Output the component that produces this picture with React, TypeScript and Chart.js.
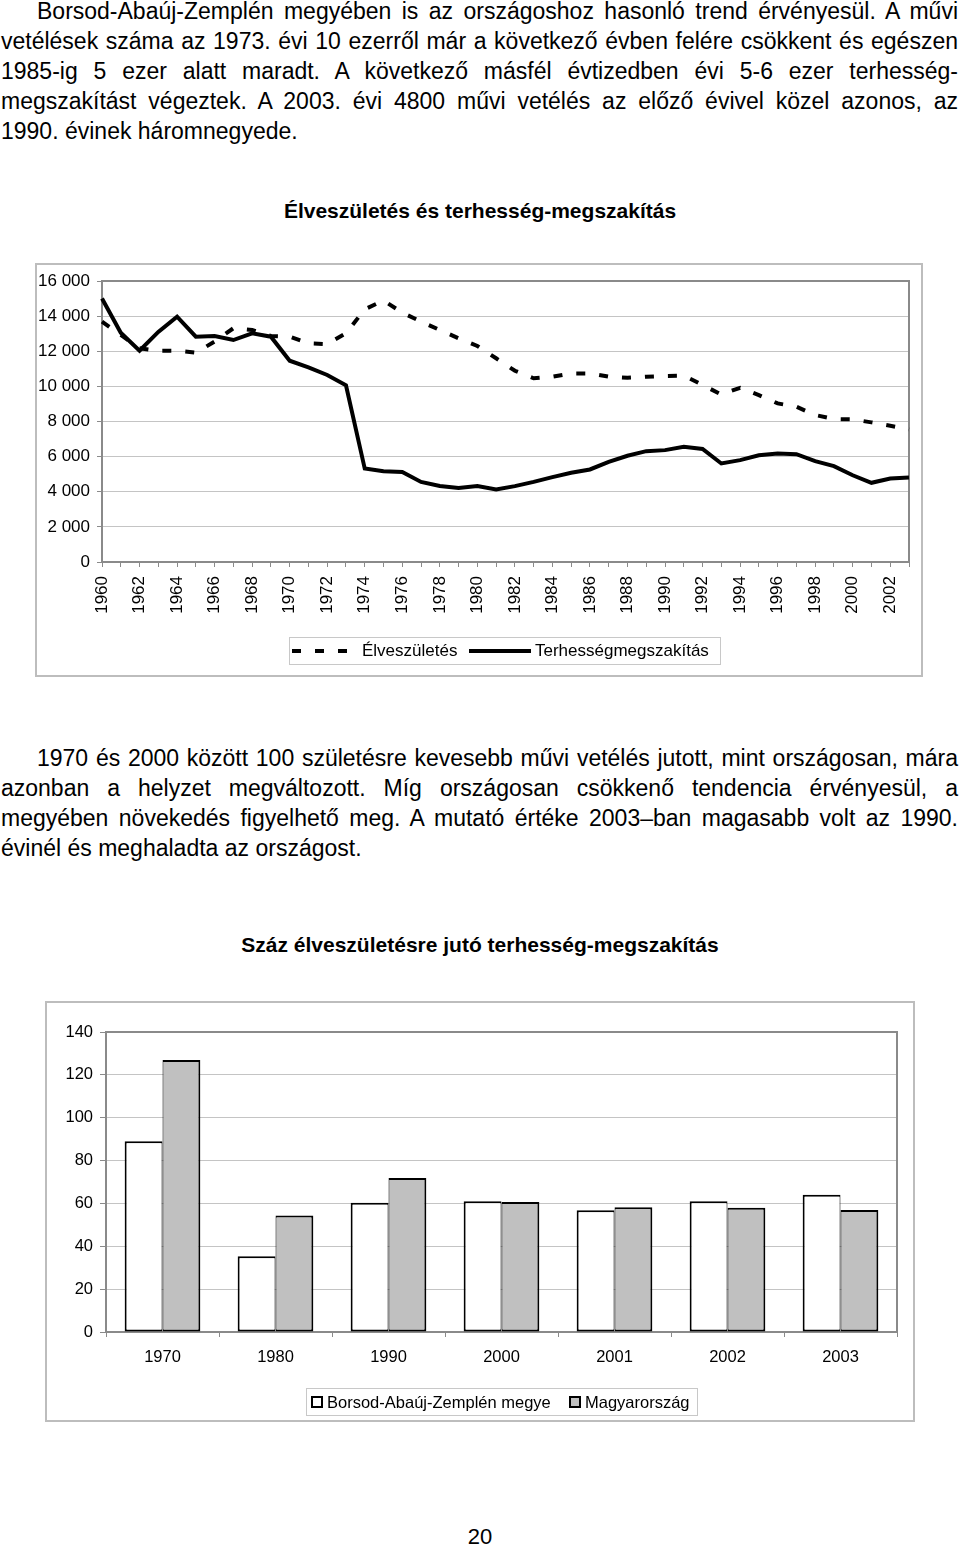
import React, { useEffect, useRef } from 'react';
import { Chart, registerables } from 'chart.js';

Chart.register(...registerables);

// ---------- Data ----------
const years = [
  '1960', '1961', '1962', '1963', '1964', '1965', '1966', '1967', '1968', '1969',
  '1970', '1971', '1972', '1973', '1974', '1975', '1976', '1977', '1978', '1979',
  '1980', '1981', '1982', '1983', '1984', '1985', '1986', '1987', '1988', '1989',
  '1990', '1991', '1992', '1993', '1994', '1995', '1996', '1997', '1998', '1999',
  '2000', '2001', '2002', '2003',
];

const elveszuletes = [
  13690, 12930, 12170, 12030, 12030, 11920, 12550, 13310, 13210, 12870,
  12830, 12450, 12410, 13020, 14390, 14890, 14200, 13690, 13210, 12740,
  12300, 11600, 10890, 10460, 10550, 10740, 10740, 10550, 10490, 10550,
  10590, 10610, 10080, 9540, 9920, 9500, 9030, 8840, 8370, 8140,
  8120, 7950, 7760, 7550,
];

const terhessegmegszakitas = [
  15000, 13050, 12030, 13100, 13970, 12830, 12870, 12640, 13020, 12830,
  11460, 11080, 10650, 10060, 5320, 5170, 5130, 4560, 4330, 4220,
  4330, 4130, 4320, 4560, 4830, 5080, 5270, 5700, 6050, 6310,
  6370, 6560, 6440, 5610, 5800, 6080, 6180, 6140, 5740, 5460,
  4940, 4510, 4750, 4810,
];

const barCategories = ['1970', '1980', '1990', '2000', '2001', '2002', '2003'];
const bazValues = [89, 35.3, 60.3, 61, 56.8, 61, 64.1];
const huValues = [126.9, 54.4, 71.9, 60.7, 58.2, 58, 56.9];

const lineLegendLabels = ['Élveszületés', 'Terhességmegszakítás'];
const barLegendLabels = ['Borsod-Abaúj-Zemplén megye', 'Magyarország'];

const para1 = [
  'Borsod-Abaúj-Zemplén megyében is az országoshoz hasonló trend érvényesül. A művi',
  'vetélések száma az 1973. évi 10 ezerről már a következő évben felére csökkent és egészen',
  '1985-ig 5 ezer alatt maradt. A következő másfél évtizedben évi 5-6 ezer terhesség-',
  'megszakítást végeztek. A 2003. évi 4800 művi vetélés az előző évivel közel azonos, az',
  '1990. évinek háromnegyede.',
];
const para2 = [
  '1970 és 2000 között 100 születésre kevesebb művi vetélés jutott, mint országosan, mára',
  'azonban a helyzet megváltozott. Míg országosan csökkenő tendencia érvényesül, a',
  'megyében növekedés figyelhető meg. A mutató értéke 2003–ban magasabb volt az 1990.',
  'évinél és meghaladta az országost.',
];

const title1 = 'Élveszületés és terhesség-megszakítás';
const title2 = 'Száz élveszületésre jutó terhesség-megszakítás';

const FONT = "'Liberation Sans', Arial, Helvetica, sans-serif";

const fmtThousands = (v: number) =>
  String(v).replace(/\B(?=(\d{3})+(?!\d))/g, ' ');

const plotBorder = {
  id: 'plotBorder',
  beforeDatasetsDraw(chart: any) {
    const { ctx, chartArea: a } = chart;
    ctx.save();
    ctx.strokeStyle = '#8a8a8a';
    ctx.lineWidth = 2;
    ctx.strokeRect(a.left, a.top, a.right - a.left, a.bottom - a.top);
    ctx.restore();
  },
};

const zeroScalePadding = (s: any) => {
  s.paddingLeft = 0;
  s.paddingRight = 0;
  s.paddingTop = 0;
  s.paddingBottom = 0;
};

function LineChart() {
  const ref = useRef<HTMLCanvasElement>(null);
  useEffect(() => {
    if (!ref.current) return;
    const chart = new Chart(ref.current, {
      type: 'line',
      data: {
        labels: years,
        datasets: [
          {
            label: lineLegendLabels[0],
            data: elveszuletes,
            borderColor: '#000',
            borderWidth: 4,
            borderDash: [9, 14],
            borderCapStyle: 'butt',
            pointRadius: 0,
            tension: 0,
            fill: false,
          },
          {
            label: lineLegendLabels[1],
            data: terhessegmegszakitas,
            borderColor: '#000',
            borderWidth: 4,
            pointRadius: 0,
            tension: 0,
            fill: false,
          },
        ],
      },
      options: {
        responsive: false,
        maintainAspectRatio: false,
        animation: false,
        devicePixelRatio: 1,
        layout: { autoPadding: false, padding: { left: 0, right: 12, top: 16, bottom: 53 } },
        plugins: { legend: { display: false }, tooltip: { enabled: false } },
        scales: {
          x: {
            type: 'category',
            offset: false,
            grid: {
              display: true,
              drawOnChartArea: false,
              drawTicks: true,
              tickLength: 5,
              color: '#8a8a8a',
            },
            border: { display: true, color: '#8a8a8a', width: 2 },
            ticks: {
              autoSkip: false,
              maxRotation: 90,
              minRotation: 90,
              padding: 9,
              color: '#000',
              font: { family: FONT, size: 17 },
              callback: (_v: any, i: number) => (i % 2 === 0 ? years[i] : ''),
            },
            afterFit: (s: any) => {
              s.height = 60;
              zeroScalePadding(s);
            },
          },
          y: {
            min: 0,
            max: 16000,
            ticks: {
              stepSize: 2000,
              padding: 7,
              color: '#000',
              font: { family: FONT, size: 17 },
              callback: (v: any) => fmtThousands(Number(v)),
            },
            grid: {
              color: '#c4c4c4',
              lineWidth: 1,
              tickLength: 5,
              tickColor: '#8a8a8a',
            },
            border: { display: true, color: '#8a8a8a', width: 2 },
            afterFit: (s: any) => {
              s.width = 65;
              zeroScalePadding(s);
            },
          },
        },
      },
      plugins: [plotBorder],
    } as any);
    return () => chart.destroy();
  }, []);
  return (
    <canvas
      ref={ref}
      width={884}
      height={410}
      style={{ position: 'absolute', left: 37, top: 265, width: 884, height: 410 }}
    />
  );
}

function BarChart() {
  const ref = useRef<HTMLCanvasElement>(null);
  useEffect(() => {
    if (!ref.current) return;
    const chart = new Chart(ref.current, {
      type: 'bar',
      data: {
        labels: barCategories,
        datasets: [
          {
            label: barLegendLabels[0],
            data: bazValues,
            backgroundColor: '#ffffff',
            borderColor: '#000',
            borderWidth: { top: 2, left: 2, right: 1, bottom: 2 },
            borderSkipped: false,
            barPercentage: 1,
            categoryPercentage: 0.67,
          },
          {
            label: barLegendLabels[1],
            data: huValues,
            backgroundColor: '#c0c0c0',
            borderColor: '#000',
            borderWidth: { top: 2, left: 1, right: 2, bottom: 2 },
            borderSkipped: false,
            barPercentage: 1,
            categoryPercentage: 0.67,
          },
        ],
      },
      options: {
        responsive: false,
        maintainAspectRatio: false,
        animation: false,
        devicePixelRatio: 1,
        layout: { autoPadding: false, padding: { left: 0, right: 16, top: 29, bottom: 48 } },
        plugins: { legend: { display: false }, tooltip: { enabled: false } },
        scales: {
          x: {
            grid: {
              display: true,
              offset: true,
              drawOnChartArea: false,
              drawTicks: true,
              tickLength: 5,
              color: '#8a8a8a',
            },
            border: { display: true, color: '#8a8a8a', width: 2 },
            ticks: {
              padding: 11,
              color: '#000',
              font: { family: FONT, size: 16.5 },
            },
            afterFit: (s: any) => {
              s.height = 40;
              zeroScalePadding(s);
            },
          },
          y: {
            min: 0,
            max: 140,
            ticks: {
              stepSize: 20,
              padding: 7,
              color: '#000',
              font: { family: FONT, size: 16.5 },
            },
            grid: {
              color: '#c4c4c4',
              lineWidth: 1,
              tickLength: 6,
              tickColor: '#8a8a8a',
            },
            border: { display: true, color: '#8a8a8a', width: 2 },
            afterFit: (s: any) => {
              s.width = 59;
              zeroScalePadding(s);
            },
          },
        },
      },
      plugins: [plotBorder],
    } as any);
    return () => chart.destroy();
  }, []);
  return (
    <canvas
      ref={ref}
      width={866}
      height={417}
      style={{ position: 'absolute', left: 47, top: 1003, width: 866, height: 417 }}
    />
  );
}

function Paragraph({ lines, top }: { lines: string[]; top: number }) {
  return (
    <>
      {lines.map((t, i) => {
        const last = i === lines.length - 1;
        const indent = i === 0 ? 36 : 0;
        return (
          <div
            key={i}
            style={{
              position: 'absolute',
              left: 1 + indent,
              width: 957 - indent,
              top: top + i * 30,
              height: 30,
              lineHeight: '30px',
              fontSize: 23,
              whiteSpace: 'nowrap',
              textAlign: last ? 'left' : 'justify',
              textAlignLast: last ? 'left' : 'justify',
            } as any}
          >
            {t}
          </div>
        );
      })}
    </>
  );
}

export default function App() {
  const abs = (l: number, t: number, extra: any = {}) => ({
    position: 'absolute' as const,
    left: l,
    top: t,
    ...extra,
  });
  return (
    <div
      style={{
        position: 'absolute',
        left: 0,
        top: 0,
        width: 960,
        height: 1546,
        overflow: 'hidden',
        background: '#fff',
        color: '#000',
        fontFamily: FONT,
      }}
    >
      <Paragraph lines={para1} top={-4} />

      <div
        style={abs(0, 196, {
          width: 960,
          textAlign: 'center',
          fontWeight: 'bold',
          fontSize: 21,
          lineHeight: '30px',
        })}
      >
        {title1}
      </div>

      {/* line chart frame */}
      <div
        style={abs(35, 263, {
          width: 888,
          height: 414,
          boxSizing: 'border-box',
          border: '2px solid #bdbdbd',
        })}
      />
      <LineChart />
      {/* line chart legend */}
      <div
        style={abs(289, 637, {
          width: 432,
          height: 28,
          boxSizing: 'border-box',
          border: '1px solid #c8c8c8',
        })}
      />
      <svg style={abs(292, 647)} width={60} height={8}>
        <line x1={0} y1={4} x2={58} y2={4} stroke="#000" strokeWidth={4} strokeDasharray="9 14" />
      </svg>
      <div style={abs(362, 638, { fontSize: 17, lineHeight: '26px', whiteSpace: 'nowrap' })}>
        {lineLegendLabels[0]}
      </div>
      <svg style={abs(469, 647)} width={62} height={8}>
        <line x1={0} y1={4} x2={62} y2={4} stroke="#000" strokeWidth={4} />
      </svg>
      <div style={abs(535, 638, { fontSize: 17, lineHeight: '26px', whiteSpace: 'nowrap' })}>
        {lineLegendLabels[1]}
      </div>

      <Paragraph lines={para2} top={743} />

      <div
        style={abs(0, 930, {
          width: 960,
          textAlign: 'center',
          fontWeight: 'bold',
          fontSize: 21,
          lineHeight: '30px',
        })}
      >
        {title2}
      </div>

      {/* bar chart frame */}
      <div
        style={abs(45, 1001, {
          width: 870,
          height: 421,
          boxSizing: 'border-box',
          border: '2px solid #bdbdbd',
        })}
      />
      <BarChart />
      {/* bar chart legend */}
      <div
        style={abs(306, 1388, {
          width: 392,
          height: 28,
          boxSizing: 'border-box',
          border: '1px solid #c8c8c8',
        })}
      />
      <div
        style={abs(311, 1396, {
          width: 12,
          height: 12,
          boxSizing: 'border-box',
          border: '2px solid #000',
          background: '#fff',
        })}
      />
      <div style={abs(327, 1389, { fontSize: 16.5, lineHeight: '26px', whiteSpace: 'nowrap' })}>
        {barLegendLabels[0]}
      </div>
      <div
        style={abs(569, 1396, {
          width: 12,
          height: 12,
          boxSizing: 'border-box',
          border: '2px solid #000',
          background: '#c0c0c0',
        })}
      />
      <div style={abs(585, 1389, { fontSize: 16.5, lineHeight: '26px', whiteSpace: 'nowrap' })}>
        {barLegendLabels[1]}
      </div>

      <div
        style={abs(0, 1522, {
          width: 960,
          textAlign: 'center',
          fontSize: 22,
          lineHeight: '30px',
        })}
      >
        20
      </div>
    </div>
  );
}
